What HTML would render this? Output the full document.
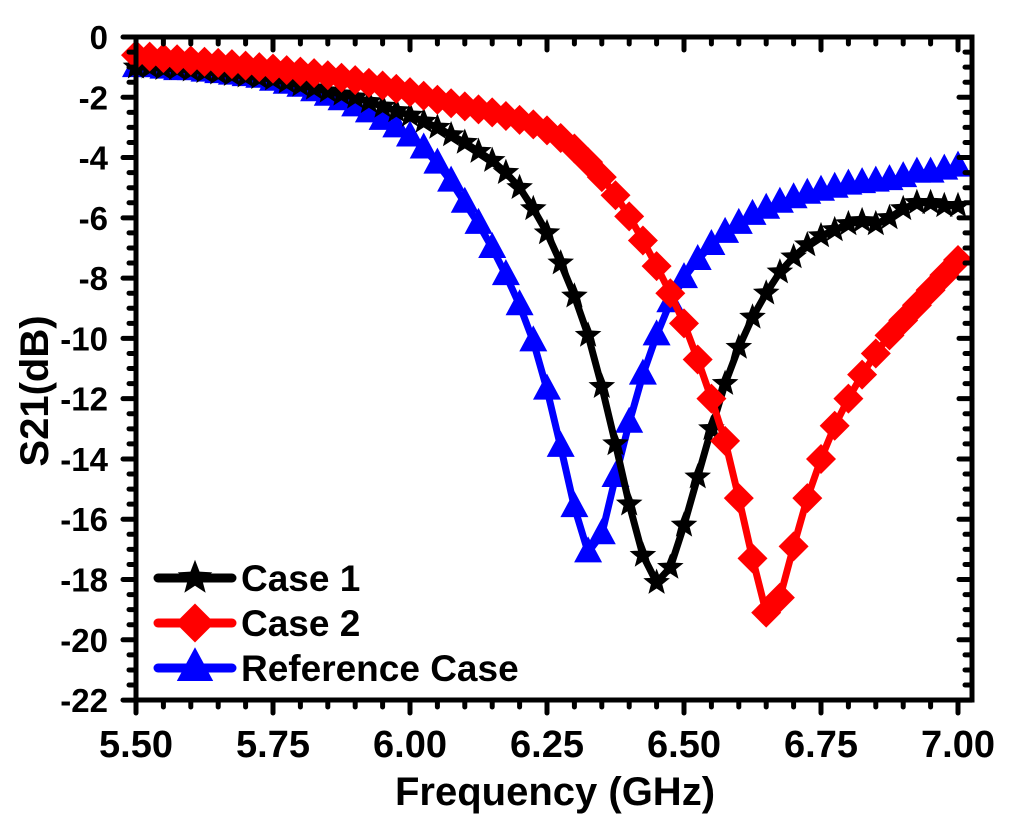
<!DOCTYPE html>
<html><head><meta charset="utf-8"><style>
html,body{margin:0;padding:0;background:#fff;}
svg text{font-family:"Liberation Sans",Arial,sans-serif;font-weight:bold;fill:#000;}
</style></head><body>
<svg id="chart" width="1024" height="826" viewBox="0 0 1024 826" xmlns="http://www.w3.org/2000/svg">
<g id="series"></g>
<g id="axes"></g>
<g id="legend"></g>
<text x="555" y="805" font-size="40" text-anchor="middle">Frequency (GHz)</text>
<text transform="translate(48,391) rotate(-90)" font-size="40" text-anchor="middle">S21(dB)</text>
</svg>
<script>
const freqStart = 5.5, freqStep = 0.025;
const case1 = [-1.0,-1.0,-1.05,-1.05,-1.1,-1.15,-1.2,-1.25,-1.3,-1.35,-1.4,-1.5,-1.6,-1.7,-1.8,-1.9,-2.0,-2.15,-2.3,-2.45,-2.6,-2.8,-3.0,-3.25,-3.5,-3.8,-4.1,-4.5,-5.0,-5.7,-6.5,-7.5,-8.6,-9.9,-11.6,-13.5,-15.5,-17.2,-18.1,-17.6,-16.2,-14.6,-13.0,-11.5,-10.3,-9.3,-8.5,-7.8,-7.3,-6.9,-6.6,-6.4,-6.2,-6.1,-6.2,-6.0,-5.7,-5.5,-5.5,-5.6,-5.6];
const case2 = [-0.6,-0.65,-0.7,-0.74,-0.78,-0.82,-0.86,-0.9,-0.95,-1.0,-1.05,-1.1,-1.15,-1.2,-1.27,-1.35,-1.43,-1.52,-1.61,-1.72,-1.83,-1.95,-2.08,-2.2,-2.3,-2.4,-2.5,-2.62,-2.75,-2.9,-3.1,-3.35,-3.7,-4.15,-4.65,-5.25,-5.95,-6.75,-7.6,-8.5,-9.5,-10.7,-12.0,-13.4,-15.3,-17.3,-19.1,-18.6,-16.9,-15.3,-14.0,-12.9,-12.0,-11.2,-10.5,-9.9,-9.4,-8.9,-8.4,-7.9,-7.4];
const refCase = [-1.0,-1.0,-1.05,-1.1,-1.1,-1.15,-1.2,-1.25,-1.3,-1.35,-1.45,-1.55,-1.65,-1.8,-1.95,-2.1,-2.3,-2.5,-2.75,-3.0,-3.3,-3.7,-4.2,-4.8,-5.5,-6.2,-7.0,-7.9,-8.9,-10.1,-11.7,-13.6,-15.6,-17.1,-16.5,-14.6,-12.8,-11.2,-9.9,-8.8,-8.0,-7.4,-6.9,-6.5,-6.2,-5.9,-5.7,-5.5,-5.35,-5.2,-5.1,-5.0,-4.9,-4.85,-4.8,-4.75,-4.65,-4.5,-4.5,-4.4,-4.3];
const xTickLabels = ["5.50","5.75","6.00","6.25","6.50","6.75","7.00"];
const yTickLabels = ["0","-2","-4","-6","-8","-10","-12","-14","-16","-18","-20","-22"];
const seriesNames = ["Case 1","Case 2","Reference Case"];

const NS="http://www.w3.org/2000/svg";
const X0=136, PXU=548, Y0=37, PYU=30.14, LEFT=136, RIGHT=972, TOP=37, BOTTOM=700;
function xs(f){return X0+(f-5.5)*PXU;}
function ys(v){return Y0-v*PYU;}
function mk(tag,attrs,parent){const e=document.createElementNS(NS,tag);for(const k in attrs)e.setAttribute(k,attrs[k]);parent.appendChild(e);return e;}

function marker(type,cx,cy,color,parent){
  let e;
  if(type==='star'){
    const pts=[];for(let i=0;i<10;i++){const r=i%2?6:14,a=-Math.PI/2+i*Math.PI/5;pts.push((cx+r*Math.cos(a)).toFixed(1)+','+(cy+r*Math.sin(a)).toFixed(1));}
    e=mk('polygon',{points:pts.join(' '),fill:color},parent);
  }else if(type==='diamond'){
    e=mk('polygon',{points:`${cx},${cy-15} ${cx+15},${cy} ${cx},${cy+15} ${cx-15},${cy}`,fill:color},parent);
  }else{
    e=mk('polygon',{points:`${cx},${cy-16} ${cx+14},${cy+10} ${cx-14},${cy+10}`,fill:color},parent);
  }
  return e;
}

const sg=document.getElementById('series');
const defs=[[refCase,'#0000ff','triangle','reference-case'],[case1,'#000','star','case-1'],[case2,'#ff0000','diamond','case-2']];
defs.forEach(([data,color,type,name])=>{
  const g=mk('g',{},sg);
  
  
  const pts=data.map((v,i)=>xs(freqStart+i*freqStep).toFixed(1)+','+ys(v).toFixed(1));
  const pl=mk('polyline',{points:pts.join(' '),fill:'none',stroke:color,'stroke-width':7,'stroke-linejoin':'round'},g);
  
  
  data.forEach((v,i)=>{
    const m=marker(type,xs(freqStart+i*freqStep),ys(v),color,g);
    
    
  });
});

const ax=document.getElementById('axes');
mk('rect',{x:LEFT,y:TOP,width:RIGHT-LEFT,height:BOTTOM-TOP,fill:'none',stroke:'#000','stroke-width':5},ax);
for(let i=0;i<=30;i++){
  const f=5.5+i*0.05; const x=xs(f); if(x>RIGHT+1)break;
  const major=i%5===0; const L=major?13:7;
  mk('line',{x1:x,y1:BOTTOM,x2:x,y2:BOTTOM+L,stroke:'#000','stroke-width':5,'stroke-linecap':'round'},ax);
  mk('line',{x1:x,y1:TOP,x2:x,y2:TOP+L,stroke:'#000','stroke-width':5,'stroke-linecap':'round'},ax);
}
xTickLabels.forEach((t,i)=>{
  const tx=mk('text',{x:xs(5.5+i*0.25),y:757,'font-size':38,'text-anchor':'middle'},ax);
  tx.textContent=t;
  
  
});
for(let i=0;i<=44;i++){
  const v=-i*0.5; const y=ys(v); const major=i%4===0; const L=major?13:7;
  mk('line',{x1:LEFT,y1:y,x2:LEFT-L,y2:y,stroke:'#000','stroke-width':5,'stroke-linecap':'round'},ax);
  mk('line',{x1:RIGHT,y1:y,x2:RIGHT-L,y2:y,stroke:'#000','stroke-width':5,'stroke-linecap':'round'},ax);
}
yTickLabels.forEach((t,i)=>{
  const tx=mk('text',{x:108,y:ys(-2*i)+12,'font-size':33,'text-anchor':'end'},ax);
  tx.textContent=t;
  
  
});

const lg=document.getElementById('legend');
const legDefs=[['#000','star',578],['#ff0000','diamond',623],['#0000ff','triangle',668]];
legDefs.forEach(([c,type,y],i)=>{
  const g=mk('g',{},lg);
  
  
  mk('line',{x1:158,y1:y,x2:232,y2:y,stroke:c,'stroke-width':9,'stroke-linecap':'round'},g);
  const s=1.3;
  const m=marker(type,195,y,c,g);
  m.setAttribute('transform',`translate(195,${y}) scale(${s}) translate(-195,${-y})`);
  const t=mk('text',{x:241,y:y+13,'font-size':37},g);
  t.textContent=seriesNames[i];
});
</script>
</body></html>
